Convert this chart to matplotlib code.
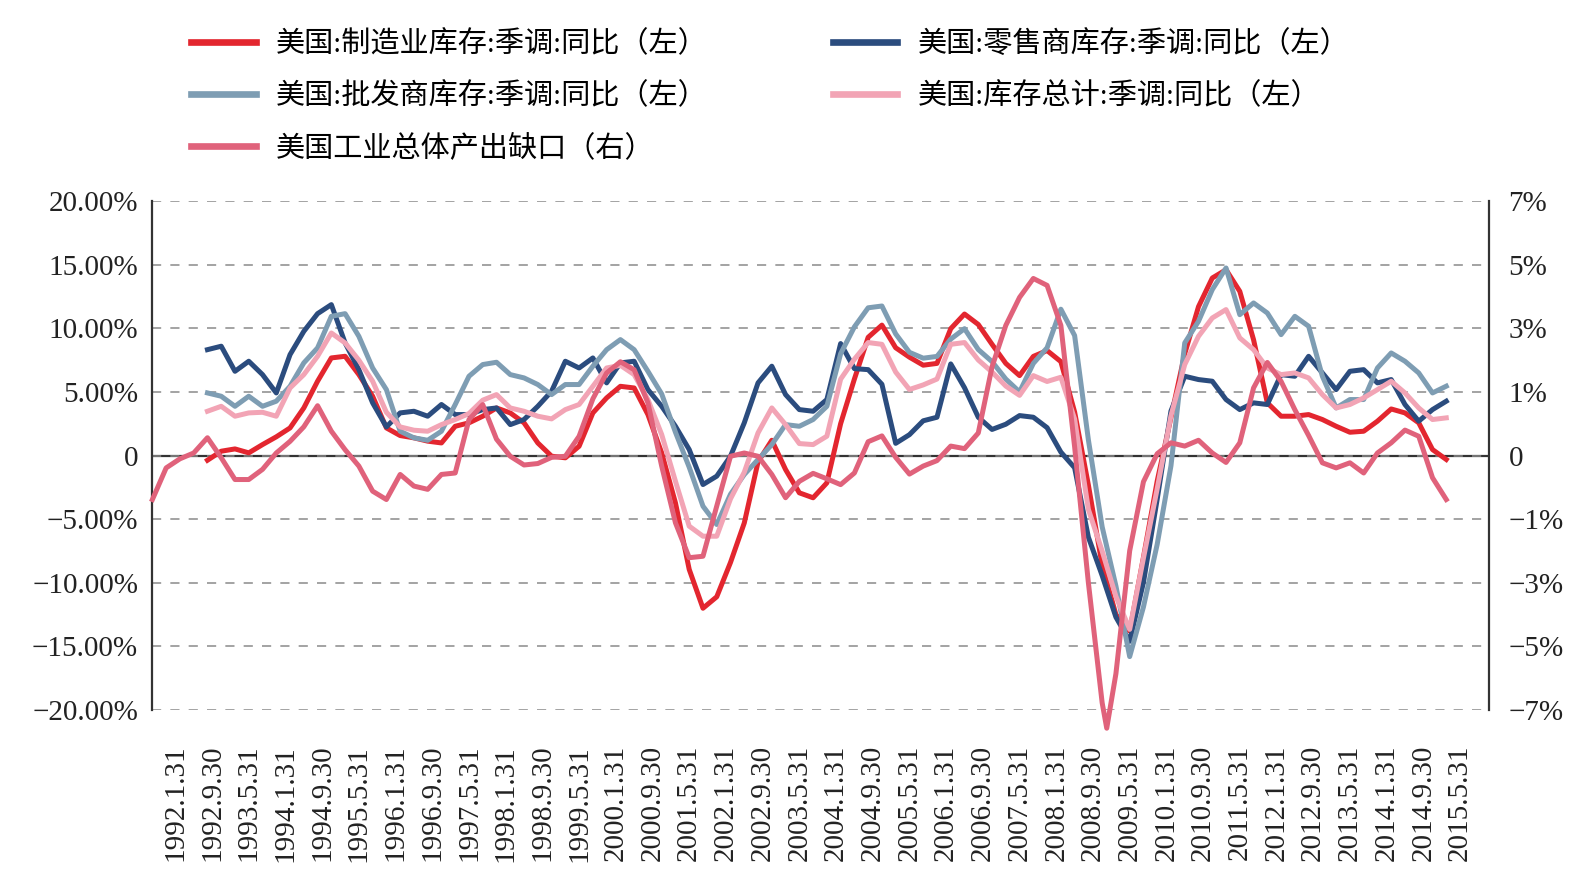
import calendar
import numpy as np
import matplotlib
matplotlib.use('Agg')
import matplotlib.pyplot as plt
from matplotlib.lines import Line2D
from matplotlib.ticker import FuncFormatter

plt.rcParams['font.family'] = ['Liberation Serif', 'Noto Sans CJK SC']
plt.rcParams['axes.unicode_minus'] = True

# month offsets counted from 1992-01; inventory series read every 3 months
inv_months = np.arange(7, 278, 3)

manufacturing = [
    -0.37, 0.34, 0.52, 0.21, 0.86, 1.47, 2.17, 3.74, 5.84, 7.67,
    7.80, 6.36, 4.66, 2.17, 1.57, 1.39, 1.13, 0.99, 2.30, 2.57,
    3.09, 3.74, 3.35, 2.57, 0.99, -0.05, -0.18, 0.73, 3.35, 4.53,
    5.44, 5.31, 3.22, 0.21, -3.72, -8.95, -12.0, -11.1, -8.4, -5.3,
    -0.5, 1.2, -1.10, -2.93, -3.32, -2.15, 2.5, 6.01, 9.29, 10.25,
    8.47, 7.73, 7.10, 7.24, 9.97, 11.12, 10.30, 8.74, 7.24, 6.28,
    7.79, 8.25, 7.38, 3.42, -2.32, -8.61, -12.5, -13.8, -8.0, -2.0,
    3.0, 8.0, 11.7, 13.95, 14.6, 12.9, 9.1, 4.14, 3.09, 3.09,
    3.22, 2.83, 2.30, 1.83, 1.91, 2.70, 3.66, 3.35, 2.57, 0.47,
    -0.31,
]
retail = [
    8.32, 8.59, 6.62, 7.41, 6.36, 4.92, 7.93, 9.76, 11.15, 11.86,
    8.85, 6.75, 4.14, 2.25, 3.35, 3.48, 3.09, 4.01, 3.22, 3.22,
    3.61, 3.74, 2.43, 2.83, 3.87, 5.05, 7.41, 6.88, 7.67, 5.71,
    7.28, 7.41, 5.18, 3.87, 2.30, 0.47, -2.28, -1.62, -0.05, 2.57,
    5.71, 7.02, 4.79, 3.61, 3.48, 4.40, 8.8, 6.83, 6.75, 5.60,
    0.96, 1.64, 2.73, 3.01, 7.2, 5.33, 3.01, 2.05, 2.46, 3.14,
    3.01, 2.19, 0.27, -0.96, -6.42, -9.43, -12.7, -14.6, -9.97, -3.42,
    3.5, 6.23, 5.97, 5.84, 4.40, 3.61, 4.14, 4.01, 6.36, 6.23,
    7.80, 6.49, 5.18, 6.62, 6.75, 5.71, 5.97, 4.01, 2.70, 3.61,
    4.27,
]
wholesale = [
    4.92, 4.66, 3.87, 4.66, 3.87, 4.27, 5.44, 7.28, 8.46, 10.94,
    11.15, 9.37, 6.88, 5.18, 1.91, 1.39, 1.20, 1.91, 4.01, 6.23,
    7.15, 7.33, 6.36, 6.10, 5.58, 4.79, 5.58, 5.58, 7.02, 8.32,
    9.11, 8.32, 6.62, 4.84, 1.83, -0.92, -3.98, -5.42, -3.04, -1.49,
    -0.31, 0.86, 2.43, 2.30, 2.83, 3.87, 8.0, 10.11, 11.61, 11.75,
    9.56, 8.11, 7.65, 7.79, 9.15, 9.97, 8.33, 7.38, 6.01, 5.00,
    7.24, 8.47, 11.5, 9.43, 1.23, -5.60, -10.25, -15.8, -11.9, -6.97,
    -0.8, 8.85, 10.55, 13.04, 14.74, 11.07, 11.99, 11.20, 9.50, 10.94,
    10.16, 6.23, 3.74, 4.40, 4.40, 6.88, 8.06, 7.41, 6.49, 4.92,
    5.45,
]
total = [
    3.48, 3.87, 3.09, 3.35, 3.40, 3.09, 5.31, 6.36, 7.80, 9.63,
    8.85, 7.49, 5.84, 3.40, 2.25, 1.99, 1.91, 2.43, 2.83, 3.30,
    4.35, 4.79, 3.74, 3.48, 3.09, 2.88, 3.61, 4.01, 5.44, 6.88,
    7.09, 6.36, 4.40, 1.65, -2.02, -5.55, -6.34, -6.34, -3.40, -1.31,
    1.78, 3.74, 2.43, 0.94, 0.86, 1.52, 6.0, 7.57, 8.88, 8.74,
    6.56, 5.19, 5.55, 6.01, 8.74, 8.88, 7.51, 6.56, 5.46, 4.73,
    6.28, 5.82, 6.15, 2.87, -4.23, -7.51, -11.07, -13.66, -8.06, -2.60,
    3.14, 7.15, 9.37, 10.81, 11.47, 9.24, 8.32, 6.88, 6.36, 6.49,
    6.10, 4.79, 3.74, 4.01, 4.53, 5.18, 5.84, 4.92, 3.74, 2.83,
    2.96,
]

# output gap (right axis), plus the 2009 trough month
gap_months = np.sort(np.r_[np.arange(-5, 278, 3), 203])
gap = [
    -1.21, -0.34, -0.09, 0.07, 0.49, -0.06, -0.66, -0.66, -0.38, 0.07,
    0.39, 0.79, 1.37, 0.67, 0.16, -0.29, -0.98, -1.21, -0.52, -0.84,
    -0.93, -0.52, -0.48, 0.99, 1.40, 0.45, -0.02, -0.26, -0.22, -0.05,
    -0.02, 0.53, 1.56, 2.27, 2.58, 2.36, 1.45, -0.29, -1.85, -2.81,
    -2.77, -1.39, -0.02, 0.07, -0.02, -0.52, -1.16, -0.71, -0.49, -0.64,
    -0.80, -0.48, 0.38, 0.54, -0.05, -0.51, -0.29, -0.14, 0.26, 0.19,
    0.62, 2.44, 3.58, 4.35, 4.87, 4.68, 3.58, 0.24, -3.5, -6.8,
    -7.5, -6.0, -2.62, -0.72, 0.05, 0.35, 0.26, 0.42, 0.07, -0.19,
    0.35, 1.86, 2.56, 2.04, 1.26, 0.55, -0.20, -0.34, -0.20, -0.48,
    0.07, 0.35, 0.70, 0.53, -0.61, -1.21,
]

label_months = np.arange(0, 281, 8)


def month_label(m):
    y, mo = 1992 + m // 12, m % 12 + 1
    return f"{y}.{mo}.{calendar.monthrange(y, mo)[1]}"


c_manu, c_retail, c_whole = '#E3262F', '#2B4C7E', '#7E9DB3'
c_total, c_gap = '#F2A4B5', '#E0627B'
lw = 3.6

fig = plt.figure(figsize=(15.86, 8.86), dpi=100)
ax = fig.add_axes([0.0958, 0.1986, 0.8430, 0.5745])
ax2 = ax.twinx()

ax.plot(inv_months, manufacturing, color=c_manu, lw=lw)
ax.plot(inv_months, retail, color=c_retail, lw=lw)
ax.plot(inv_months, wholesale, color=c_whole, lw=lw)
ax.plot(inv_months, total, color=c_total, lw=lw)
ax2.plot(gap_months, gap, color=c_gap, lw=lw, clip_on=False)

ax.set_xlim(-5.1, 286.3)
ax.set_ylim(-20, 20)
ax2.set_ylim(-7, 7)

ax.set_yticks(np.arange(-20, 21, 5))
ax.yaxis.set_major_formatter(FuncFormatter(
    lambda v, p: '0' if v == 0 else f"{v:.2f}%".replace('-', '\u2212')))
ax2.set_yticks(np.linspace(-7, 7, 9))
ax2.yaxis.set_major_formatter(FuncFormatter(
    lambda v, p: '0' if int(v) == 0 else f"{int(v)}%".replace('-', '\u2212')))

ax.set_xticks(label_months)
ax.set_xticklabels([month_label(m) for m in label_months], rotation=90)

ax.grid(axis='y', color='#8a8a8a', lw=1.1, ls=(0, (6, 6)))
ax.axhline(0, color='#333333', lw=1.6, zorder=1)

for s in ['top', 'bottom', 'right']:
    ax.spines[s].set_visible(False)
for s in ['top', 'bottom', 'left']:
    ax2.spines[s].set_visible(False)
ax.spines['left'].set_color('#333333')
ax.spines['left'].set_linewidth(1.6)
ax2.spines['right'].set_color('#333333')
ax2.spines['right'].set_linewidth(1.6)

ax.tick_params(axis='y', length=0, pad=10, labelsize=21, colors='#222222')
ax.tick_params(axis='x', length=0, pad=25, labelsize=21, colors='#222222')
ax2.tick_params(axis='y', length=0, pad=14, labelsize=21, colors='#222222')

handles = [
    Line2D([], [], color=c_manu, lw=4.8),
    Line2D([], [], color=c_whole, lw=4.8),
    Line2D([], [], color=c_gap, lw=4.8),
    Line2D([], [], color=c_retail, lw=4.8),
    Line2D([], [], color=c_total, lw=4.8),
]
labels = [
    '美国:制造业库存:季调:同比（左）',
    '美国:批发商库存:季调:同比（左）',
    '美国工业总体产出缺口（右）',
    '美国:零售商库存:季调:同比（左）',
    '美国:库存总计:季调:同比（左）',
]
fig.legend(handles, labels, ncol=2, loc='upper left',
           bbox_to_anchor=(0.1115, 0.982), frameon=False, fontsize=21,
           borderpad=0, handlelength=2.2, handletextpad=0.7,
           columnspacing=4.3, labelspacing=0.82)

plt.savefig('out.png', dpi=100)
